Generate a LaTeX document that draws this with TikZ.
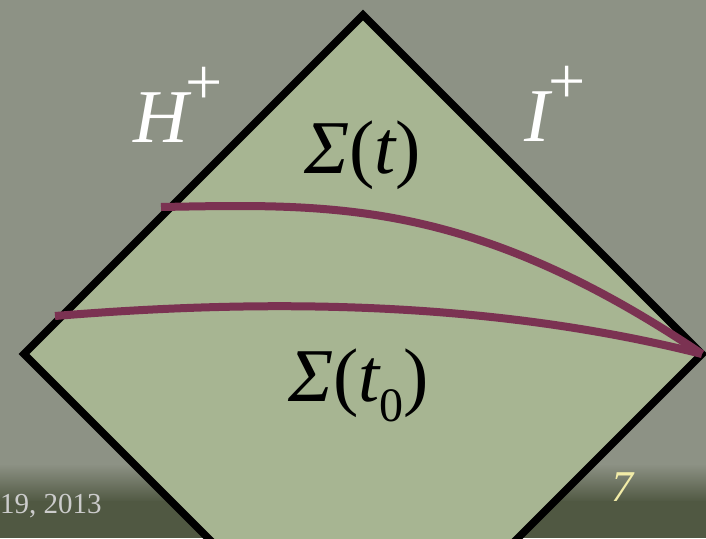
\documentclass[tikz,border=0pt]{standalone}
\usepackage{fontspec}
\setmainfont{Liberation Serif}
\usetikzlibrary{calc}
\definecolor{slidegray}{RGB}{141,146,133}
\definecolor{slidedark}{RGB}{80,88,66}
\definecolor{diamondgreen}{RGB}{167,181,146}
\definecolor{sliceline}{RGB}{123,50,82}
\definecolor{datewhite}{RGB}{204,204,204}
\definecolor{pageyellow}{RGB}{242,236,168}
\newcommand{\BigFont}{\fontsize{76}{80}\selectfont}
\newcommand{\Sup}[1]{\raisebox{38pt}{\fontsize{66}{68}\selectfont\upshape #1}}

\begin{document}
\begin{tikzpicture}[x=1pt,y=-1pt,
  label text/.style={inner sep=0pt,outer sep=0pt,font=\BigFont},
  slice/.style={line width=8pt,color=sliceline,line cap=butt}]
\useasboundingbox (0,0) rectangle (706,538);
\clip (0,0) rectangle (706,538);

% slide background
\fill[slidegray] (0,0) rectangle (706,465);
\shade[top color=slidegray,bottom color=slidedark] (0,464) rectangle (706,502);
\fill[slidedark] (0,501) rectangle (706,538);

\coordinate (Top) at (363,15);
\coordinate (Left) at (24,354);
\coordinate (Right) at (702,354);
\coordinate (Bottom) at (363,693);

\filldraw[fill=diamondgreen,draw=black,line width=7.5pt,line join=miter]
  (Top) -- (Right) -- (Bottom) -- (Left) -- cycle;

% Cauchy slices
\coordinate (S) at (161,207);
\coordinate (Szero) at (55,316);
\draw[slice] (S) .. controls (330,204) and (470,198) .. (Right);
\draw[slice] (Szero) .. controls (250,300) and (480,298) .. (Right);

\node[label text,anchor=base west,text=white] (Hplus) at (133,142)
  {\itshape H\kern-2pt\Sup{+}};
\node[label text,anchor=base west,text=white] (Iplus) at (524,141)
  {\itshape I\kern-1pt\Sup{+}};
\node[label text,anchor=base west] (Sigma) at (304,173)
  {{\itshape Σ}({\itshape t})};
\node[label text,anchor=base west] (Sigmazero) at (288,401)
  {{\itshape Σ}({\itshape t}\raisebox{-20pt}{\fontsize{48}{50}\selectfont 0})};

\node[inner sep=0pt,anchor=base west,text=datewhite,font=\fontsize{29}{32}\selectfont] (Date) at (0,513) {19, 2013};
\node[inner sep=0pt,anchor=base west,text=pageyellow,font=\fontsize{44}{46}\selectfont\itshape] (Page) at (611,501) {7};
\end{tikzpicture}
\end{document}
